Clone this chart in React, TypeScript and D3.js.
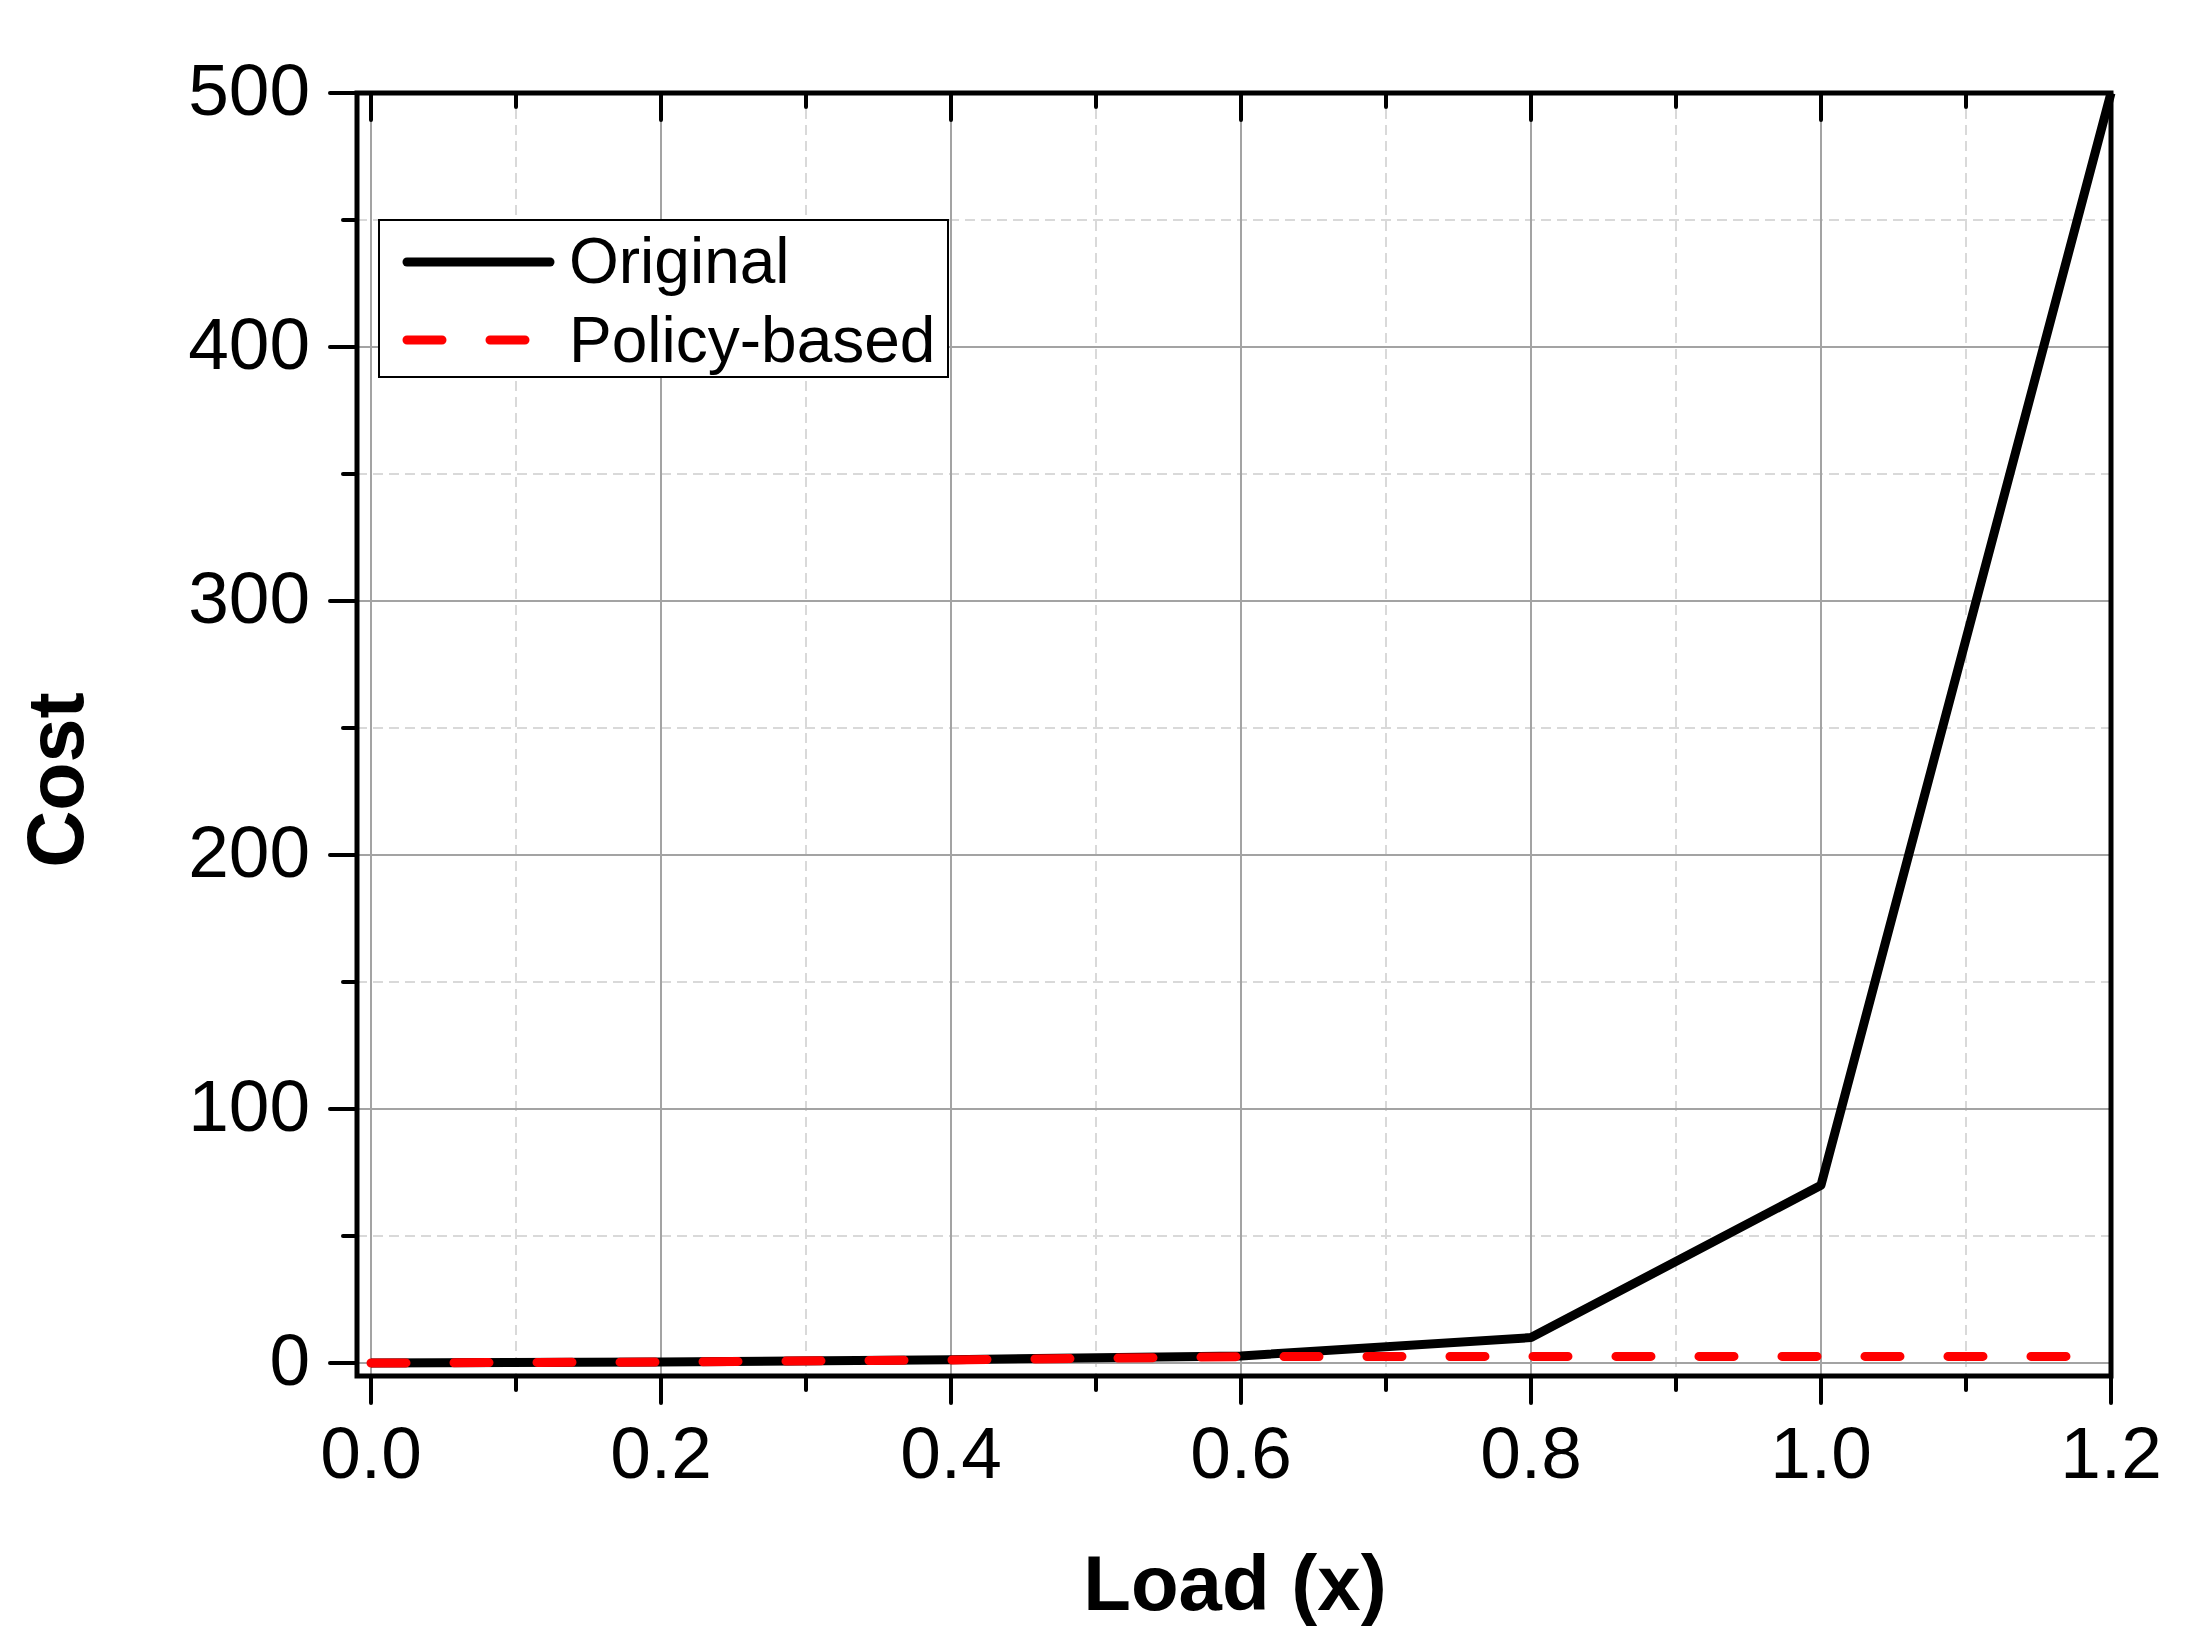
import * as d3 from 'd3';

// chart data
const loads = [0, 0.2, 0.4, 0.6, 0.8, 1.0, 1.2];
const originalCost = [0, 0.4, 1.3, 2.8, 10, 70, 500];
const policyCost = [0, 0.4, 1.2, 2.5, 2.6, 2.6, 2.6];

const xMajor = [0, 0.2, 0.4, 0.6, 0.8, 1.0, 1.2];
const xMinor = [0.1, 0.3, 0.5, 0.7, 0.9, 1.1];
const yMajor = [0, 100, 200, 300, 400, 500];
const yMinor = [50, 150, 250, 350, 450];

const seriesNames = ['Original', 'Policy-based'];

const W = 2205;
const H = 1644;
const FONT = '"Liberation Sans", Arial, sans-serif';

const frame = { left: 357, right: 2111, top: 93, bottom: 1376 };

const App = () => {
  const x = d3.scaleLinear().domain([0, 1.2]).range([371, 2111]);
  const y = d3.scaleLinear().domain([0, 500]).range([1363, 93]);

  const line = d3
    .line<number>()
    .x((_, i) => x(loads[i]))
    .y((d) => y(d));

  const fmtX = d3.format('.1f');

  return (
    <svg
      width={W}
      height={H}
      style={{ position: 'absolute', left: 0, top: 0, background: '#fff' }}
      fontFamily={FONT}
    >
      {/* grid */}
      <g>
        {xMinor.map((v) => (
          <line key={'xm' + v} x1={x(v)} x2={x(v)} y1={frame.top} y2={frame.bottom}
            stroke="#d9d9d9" strokeWidth={2} strokeDasharray="10 6" />
        ))}
        {yMinor.map((v) => (
          <line key={'ym' + v} x1={frame.left} x2={frame.right} y1={y(v)} y2={y(v)}
            stroke="#d9d9d9" strokeWidth={2} strokeDasharray="10 6" />
        ))}
        {xMajor.map((v) => (
          <line key={'xM' + v} x1={x(v)} x2={x(v)} y1={frame.top} y2={frame.bottom}
            stroke="#a3a3a3" strokeWidth={2} />
        ))}
        {yMajor.map((v) => (
          <line key={'yM' + v} x1={frame.left} x2={frame.right} y1={y(v)} y2={y(v)}
            stroke="#a3a3a3" strokeWidth={2} />
        ))}
      </g>

      {/* series */}
      <path d={line(originalCost) ?? ''} fill="none" stroke="#000" strokeWidth={9}
        strokeLinejoin="round" strokeLinecap="butt" />
      <path d={line(policyCost) ?? ''} fill="none" stroke="#ff0000" strokeWidth={9}
        strokeDasharray="35 48" strokeLinecap="round" />

      {/* frame */}
      <rect x={frame.left} y={frame.top} width={frame.right - frame.left}
        height={frame.bottom - frame.top} fill="none" stroke="#000" strokeWidth={5} />

      {/* bottom ticks (outward) and top ticks (inward) */}
      {xMajor.map((v) => (
        <g key={'xt' + v}>
          <line x1={x(v)} x2={x(v)} y1={frame.bottom} y2={frame.bottom + 27}
            stroke="#000" strokeWidth={4} strokeLinecap="round" />
          <line x1={x(v)} x2={x(v)} y1={frame.top} y2={frame.top + 27}
            stroke="#000" strokeWidth={4} strokeLinecap="round" />
          <text x={x(v)} y={1478} fontSize={73} textAnchor="middle">{fmtX(v)}</text>
        </g>
      ))}
      {xMinor.map((v) => (
        <g key={'xtm' + v}>
          <line x1={x(v)} x2={x(v)} y1={frame.bottom} y2={frame.bottom + 14}
            stroke="#000" strokeWidth={4} strokeLinecap="round" />
          <line x1={x(v)} x2={x(v)} y1={frame.top} y2={frame.top + 14}
            stroke="#000" strokeWidth={4} strokeLinecap="round" />
        </g>
      ))}

      {/* left ticks (outward) */}
      {yMajor.map((v) => (
        <g key={'yt' + v}>
          <line x1={frame.left - 27} x2={frame.left} y1={y(v)} y2={y(v)}
            stroke="#000" strokeWidth={4} strokeLinecap="round" />
          <text x={310} y={y(v) + 22} fontSize={73} textAnchor="end">{v}</text>
        </g>
      ))}
      {yMinor.map((v) => (
        <line key={'ytm' + v} x1={frame.left - 14} x2={frame.left} y1={y(v)} y2={y(v)}
          stroke="#000" strokeWidth={4} strokeLinecap="round" />
      ))}

      {/* axis titles */}
      <text x={1235} y={1610} fontSize={78} fontWeight="bold" textAnchor="middle">Load (x)</text>
      <text transform="translate(83,780) rotate(-90)" fontSize={79} fontWeight="bold"
        textAnchor="middle">Cost</text>

      {/* legend */}
      <g>
        <rect x={379} y={220} width={569} height={157} fill="#fff" stroke="#000" strokeWidth={2} />
        <line x1={407} x2={550} y1={262} y2={262} stroke="#000" strokeWidth={9} strokeLinecap="round" />
        <line x1={407} x2={550} y1={340} y2={340} stroke="#ff0000" strokeWidth={9}
          strokeDasharray="35 48" strokeLinecap="round" />
        <text x={569} y={283} fontSize={64}>{seriesNames[0]}</text>
        <text x={569} y={362} fontSize={64}>{seriesNames[1]}</text>
      </g>
    </svg>
  );
};

export default App;
